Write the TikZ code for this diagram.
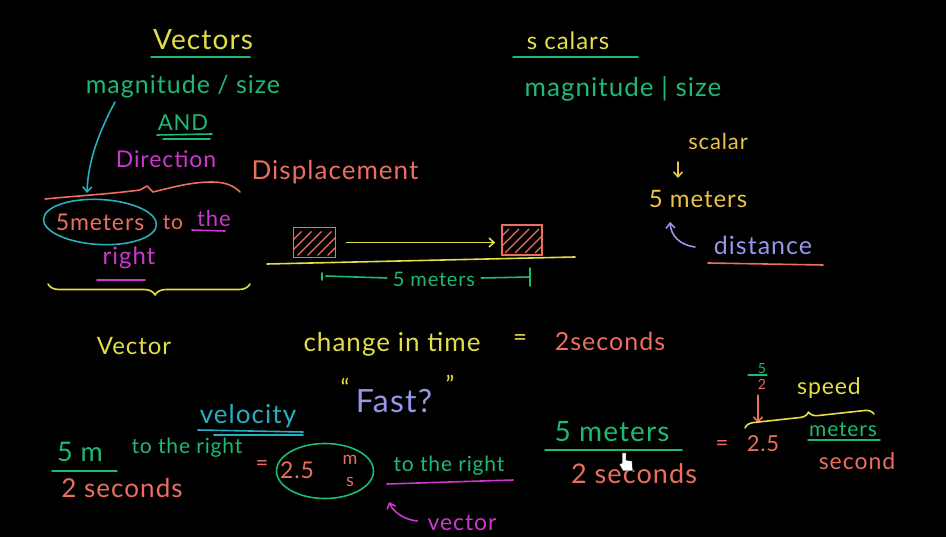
\documentclass[tikz,border=0pt]{standalone}
\usepackage{fontspec}
\newfontfamily\hand[LetterSpace=4]{Lato}
\usetikzlibrary{arrows.meta,decorations.pathreplacing,calc,shapes.geometric}
\definecolor{cyel}{RGB}{228,222,70}
\definecolor{cgrn}{RGB}{30,185,115}
\definecolor{cteal}{RGB}{40,175,190}
\definecolor{cmag}{RGB}{205,55,205}
\definecolor{csal}{RGB}{235,110,95}
\definecolor{corg}{RGB}{235,195,70}
\definecolor{clav}{RGB}{150,150,235}
\begin{document}
\begin{tikzpicture}[x=1pt,y=-1pt,
  hw/.style={inner sep=0pt, anchor=center, font=\hand\fontsize{#1}{#1}\selectfont},
  ln/.style={line width=1.6pt, line cap=round, line join=round},
  tip/.style={-{Straight Barb[length=5pt,width=9pt]}},
  hbox/.style={draw=csal, line width=1.6pt, minimum width=#1, minimum height=30, inner sep=0pt,
    path picture={\foreach \k in {-24,-14,...,26}
      \draw[csal, line width=1.3pt] ($(path picture bounding box.center)+(\k-13,13)$) -- ++(24,-24);}},
]
\fill[black] (0,0) rectangle (946,537);
\useasboundingbox (0,0) rectangle (946,537);

% ---------------- Vectors column
\node[hw=28,text=cyel] (vec) at (203,40) {Vectors};
\draw[ln,cgrn] (151,57) -- (250,57);
\node[hw=25,text=cgrn] (mag) at (183,87) {magnitude / size};
\node[hw=22,text=cgrn] (and) at (183,123) {AND};
\draw[ln,cgrn] (157,135) -- (212,134);
\draw[ln,cgrn] (163,139) -- (210,139);
\node[hw=23,text=cmag] (dir) at (166,159) {Direction};
\coordinate (wl) at (87,193);
\draw[ln,cteal,tip] (115,102) .. controls (100,130) and (88,160) .. (wl);
\draw[ln,csal] (45,199) .. controls (75,196) and (110,194) .. (140,190)
  -- (147,186) -- (153,192) .. controls (170,188) and (190,182) .. (212,182)
  .. controls (226,182) and (234,186) .. (240,192);
\node[hw=26,text=csal] (dsp) at (335,172) {Displacement};

\node[hw=23,text=csal] (fm) at (100,222) {5meters};
\node[draw=cteal, line width=1.6pt, ellipse, minimum width=113, minimum height=45, rotate=-3] (circA) at (fm) {};
\node[hw=21,text=csal] (to) at (173,223) {to};
\node[hw=22,text=cmag] (the) at (214,218) {the};
\draw[ln,cmag] (192,230) -- (225,231);
\node[hw=24,text=cmag] (rgt) at (129,258) {right};
\draw[ln,cmag] (97,280) -- (145,280);
\draw[ln,cyel,decorate,decoration={brace,amplitude=11pt,aspect=0.47}] (250,284) -- (48,284);
\node[hw=24,text=cyel] (vlab) at (134,346) {Vector};

% ---------------- displacement diagram
\node[hbox=42] (boxL) at (314.5,242.5) {};
\node[hbox=40] (boxR) at (522,240) {};
\draw[ln,cyel] (267,264) -- (575,257);
\draw[ln,cyel,tip] ($(boxL.east)+(10,0)$) -- ($(boxL.east -| boxR.west)+(-6,0)$);
\node[hw=20,text=cgrn] (fivem) at (434,279) {5 meters};
\coordinate (tkL) at (322,276);
\coordinate (tkR) at (530,277);
\draw[ln,cgrn] (tkL) ++(0,-3) -- ++(0,7);
\draw[ln,cgrn] (tkR) ++(0,-9) -- ++(0,18);
\draw[ln,cgrn] ($(tkL)+(4,0)$) -- ($(fivem.west)+(-6,-1)$);
\draw[ln,cgrn] ($(fivem.east)+(6,-1)$) -- (tkR);

% ---------------- Scalars column
\node[hw=24,text=cyel] (sca) at (568,41) {s calars};
\draw[ln,cgrn] (513,57) -- (638,57);
\node[hw=26,text=cgrn] (mag2) at (623,89) {magnitude | size};
\node[hw=22,text=corg] (scl) at (718,141) {scalar};
\node[hw=24,text=corg] (fms) at (698,199) {5 meters};
\draw[ln,corg,tip] (678,162) -- (678,178);
\node[hw=25,text=clav] (dist) at (763,245) {distance};
\draw[ln,csal] (708,263) -- (823,265);
\draw[ln,clav,tip] (695,247) .. controls (680,245) and (671,236) .. (670,222);

% ---------------- change in time
\node[hw=26,text=cyel] (cit) at (392,344) {change in time};
\node[hw=24,text=cyel] (eq1) at (520,340) {=};
\node[hw=25,text=csal] (tsec) at (610,341) {2seconds};

% ---------------- Fast?
\node[hw=32,text=clav] (fast) at (394,401) {Fast?};
\node[hw=24,text=cyel] (q1) at (345,387) {“};
\node[hw=24,text=cyel] (q2) at (450,384) {”};

% ---------------- velocity
\node[hw=26,text=cteal] (velo) at (248,416) {velocity};
\draw[ln,cteal] (198,430) -- (303,432);
\draw[ln,cteal] (214,435) -- (303,435);
\node[hw=27,text=cgrn] (fivemm) at (80,452) {5 m};
\draw[ln,cgrn] (52,471) -- (117,471);
\node[hw=21,text=cgrn] (ttr1) at (187,448) {to the right};
\node[hw=26,text=csal] (tws) at (122,488) {2 seconds};
\node[hw=22,text=csal] (eq2) at (262,466) {=};
\node[hw=23,text=csal] (tp5) at (297,470) {2.5};
\node[hw=18,text=csal] (mm) at (350,460) {m};
\node[hw=18,text=csal] (ss) at (350,482) {s};
\node[draw=cgrn, line width=1.6pt, ellipse, minimum width=97, minimum height=55] (circB) at (325,471) {};
\node[hw=21,text=cgrn] (ttr2) at (449,466) {to the right};
\draw[ln,cmag] (387,484) -- (513,480);
\node[hw=23,text=cmag] (vct) at (462,523) {vector};
\draw[ln,cmag,tip] ($(vct.west)+(-10,-2)$) .. controls (405,520) and (393,512) .. (389,502);

% ---------------- speed
\node[hw=28,text=cgrn] (fmt) at (612,432) {5 meters};
\draw[ln,cgrn] (545,450) -- (682,450);
\node[hw=27,text=csal] (tsec2) at (634,474) {2 seconds};
\node[hw=22,text=csal] (eq3) at (722,446) {=};
\node[hw=22,text=csal] (tp52) at (763,444) {2.5};
\node[hw=14,text=cgrn] (sfive) at (762,369) {5};
\draw[ln,cgrn,line width=1.3pt] (748,375) -- (767,375);
\node[hw=14,text=csal] (stwo) at (762,384) {2};
\draw[ln,csal,tip] ($(stwo.south)+(-4,6)$) -- (758,423);
\draw[ln,cyel,decorate,decoration={brace,amplitude=9pt,aspect=0.5}] (745,428) -- (874,414);
\node[hw=23,text=cyel] (spd) at (829,388) {speed};
\node[hw=21,text=cgrn] (mtrs) at (843,430) {meters};
\draw[ln,cgrn] (808,440) -- (880,440);
\node[hw=23,text=csal] (scnd) at (857,461) {second};

% ---------------- mouse pointer
\filldraw[fill=white, draw=black, line width=0.5pt]
  (622,453) -- (626,453) -- (626,460) -- (632,461) -- (633,471) -- (623,471) -- (619,464) -- (622,463) -- cycle;
\end{tikzpicture}
\end{document}
